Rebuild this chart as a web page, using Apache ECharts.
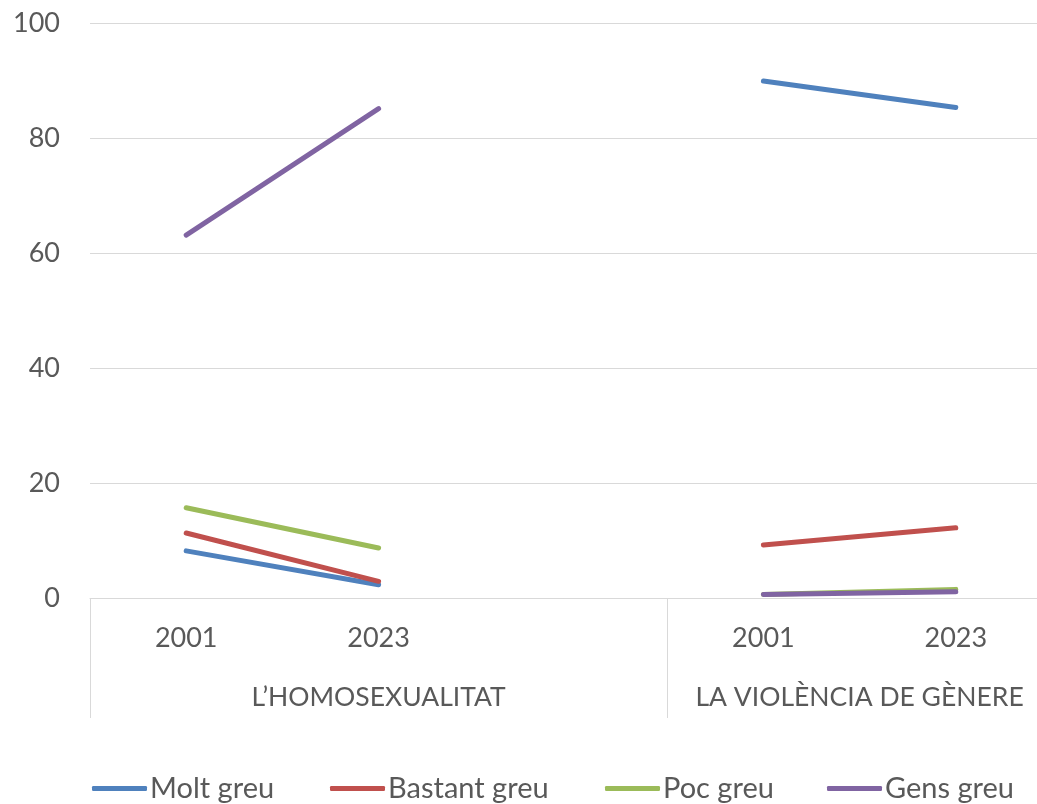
<!DOCTYPE html>
<html>
<head>
<meta charset="utf-8">
<script src="https://cdn.jsdelivr.net/npm/echarts@6/dist/echarts.min.js"></script>
<style>
  html, body { margin: 0; padding: 0; background: #fff; }
  #chart { width: 1037px; height: 804px; }
</style>
</head>
<body>
<div id="chart"></div>
<script>
// categories: an empty slot separates the two groups
const years = ['2001', '2023', '', '2001', '2023'];
const groupNames = ['L\u2019HOMOSEXUALITAT', 'LA VIOLÈNCIA DE GÈNERE'];
const groupSpans = [3, 2];
const groupStarts = [0, 3];

const seriesNames = ['Molt greu', 'Bastant greu', 'Poc greu', 'Gens greu'];
const moltGreu = [8.2, 2.3, null, 89.9, 85.3];
const bastantGreu = [11.3, 2.9, null, 9.2, 12.2];
const pocGreu = [15.7, 8.7, null, 0.6, 1.5];
const gensGreu = [63.1, 85.1, null, 0.6, 1.1];

const yTicks = [0, 20, 40, 60, 80, 100];

const colors = ['#4F81BD', '#C0504D', '#9BBB59', '#8064A2'];
const textColor = '#595959';
const lineGray = '#D9D9D9';
const font = 'Lato, "Open Sans", sans-serif';

// group label positions in category units
const groupCenters = groupStarts.map((s, i) => s + groupSpans[i] / 2);

const chart = echarts.init(document.getElementById('chart'), null, { renderer: 'canvas' });

const values = [moltGreu, bastantGreu, pocGreu, gensGreu];
const legendLeft = [92, 330, 605, 827];

chart.setOption({
  backgroundColor: '#fff',
  animation: false,
  textStyle: { fontFamily: font },
  // plot area runs past the right edge, as in the cropped original
  grid: { left: 90, width: 962, top: 23, height: 575, outerBoundsMode: 'none', containLabel: false },
  legend: seriesNames.map((name, i) => ({
    data: [name],
    left: legendLeft[i],
    top: 774,
    padding: 0,
    icon: 'roundRect',
    itemWidth: 55,
    itemHeight: 5,
    itemGap: 0,
    textStyle: { color: textColor, fontSize: 29, fontFamily: font, padding: [0, 0, 0, -2] }
  })),
  xAxis: [
    {
      type: 'category',
      data: years,
      boundaryGap: true,
      axisLine: { show: true, lineStyle: { color: lineGray, width: 1 } },
      axisTick: {
        show: true,
        length: 120,
        interval: (idx) => groupStarts.includes(idx),
        lineStyle: { color: lineGray, width: 1 }
      },
      axisLabel: { interval: 0, color: textColor, fontSize: 27, margin: 27, fontFamily: font },
      splitLine: { show: false }
    },
    {
      type: 'value',
      position: 'bottom',
      min: 0,
      max: years.length,
      interval: 0.5,
      axisLine: { show: false },
      axisTick: { show: false },
      splitLine: { show: false },
      axisLabel: {
        color: textColor,
        fontSize: 26.5,
        margin: 86,
        fontFamily: font,
        formatter: (v) => {
          const k = groupCenters.findIndex(c => Math.abs(c - v) < 1e-6);
          return k >= 0 ? groupNames[k] : '';
        }
      }
    }
  ],
  yAxis: {
    type: 'value',
    min: yTicks[0],
    max: yTicks[yTicks.length - 1],
    interval: 20,
    axisLine: { show: false },
    axisTick: { show: false },
    axisLabel: { color: textColor, fontSize: 27, margin: 30, fontFamily: font },
    splitLine: { lineStyle: { color: lineGray, width: 1 } }
  },
  series: seriesNames.map((name, i) => ({
    name,
    type: 'line',
    xAxisIndex: 0,
    data: values[i],
    symbol: 'none',
    connectNulls: false,
    itemStyle: { color: colors[i] },
    lineStyle: { color: colors[i], width: 5, cap: 'round', join: 'round' }
  }))
});
</script>
</body>
</html>
